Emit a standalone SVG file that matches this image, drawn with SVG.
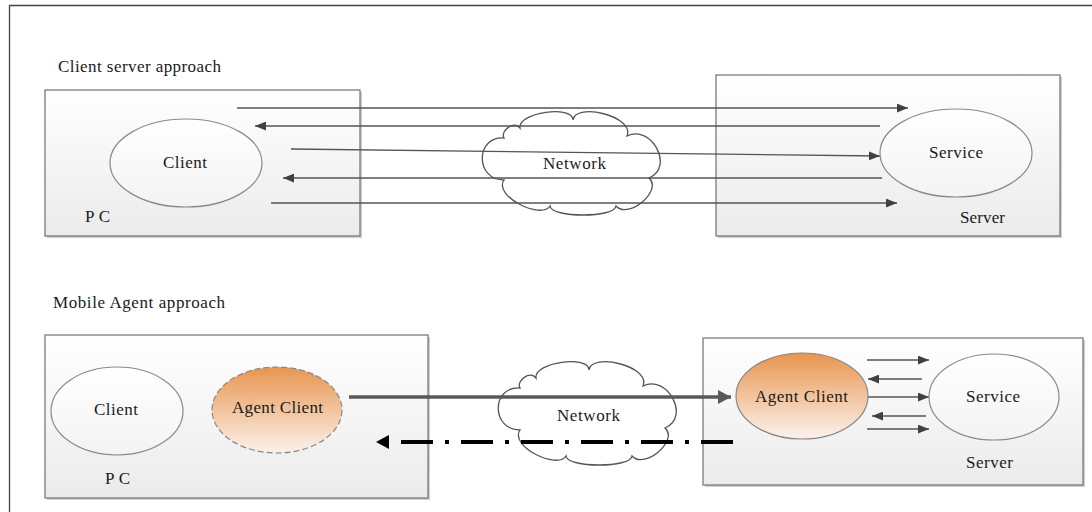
<svg xmlns="http://www.w3.org/2000/svg" width="1092" height="512" viewBox="0 0 1092 512">
<style>
.box{stroke:#7a7a7a;stroke-width:1.3;fill:url(#boxg)}
.shadow{fill:#cfcfcf}
.ell{stroke:#8a8a8a;stroke-width:1.2;fill:url(#ellg)}
.agent{fill:url(#orange);stroke:#888;stroke-width:1.2}
.dash{stroke-dasharray:6 3}
.cloud{fill:#fff;stroke:#555;stroke-width:1.3}
.thin{stroke:#555;stroke-width:1.3;fill:none;marker-end:url(#ah)}
.t{font-family:"Liberation Serif","DejaVu Serif","Times New Roman",serif;font-size:17px;fill:#1a1a1a}
</style>
<defs>
<linearGradient id="boxg" x1="0" y1="0" x2="0" y2="1">
<stop offset="0" stop-color="#ffffff"/><stop offset="1" stop-color="#ebebeb"/>
</linearGradient>
<linearGradient id="ellg" x1="0" y1="0" x2="0" y2="1">
<stop offset="0" stop-color="#ffffff"/><stop offset="1" stop-color="#f3f3f3"/>
</linearGradient>
<linearGradient id="orange" x1="0" y1="0" x2="0" y2="1">
<stop offset="0" stop-color="#e8954f"/><stop offset="1" stop-color="#fbf2ec"/>
</linearGradient>
<marker id="ah" markerUnits="userSpaceOnUse" viewBox="0 0 10 8" markerWidth="11" markerHeight="9" refX="10" refY="4" orient="auto">
<path d="M0,0 L10,4 L0,8 z" fill="#404040"/>
</marker>
<marker id="ahg" markerUnits="userSpaceOnUse" viewBox="0 0 13 14" markerWidth="13" markerHeight="14" refX="13" refY="7" orient="auto">
<path d="M0,0 L13,7 L0,14 z" fill="#595959"/>
</marker>
<marker id="ahk" markerUnits="userSpaceOnUse" viewBox="0 0 13 14" markerWidth="13" markerHeight="14" refX="13" refY="7" orient="auto">
<path d="M0,0 L13,7 L0,14 z" fill="#000"/>
</marker>
<path id="cloudshape" d="M37,16 C35,0 90,-7 90,8 C92,-10 152,4 144,24 C168,12 192,55 166,66 C180,78 146,108 133,94 C132,106 68,106 67,94 C58,108 10,84 21,68 C-8,68 -8,24 21,26 C17,19 31,8 37,16 Z"/>
</defs>

<g id="frame">
<path d="M9.5,512 L9.5,5.5 L1092,5.5" fill="none" stroke="#444" stroke-width="1.3"/>
</g>

<g id="pc-top">
<rect class="shadow" x="47" y="92" width="315" height="146"/>
<rect class="box" x="45" y="90" width="315" height="146"/>
</g>
<g id="server-top">
<rect class="shadow" x="718" y="77" width="344" height="161"/>
<rect class="box" x="716" y="75" width="344" height="161"/>
</g>
<g id="pc-bottom">
<rect class="shadow" x="47" y="337" width="383" height="163"/>
<rect class="box" x="45" y="335" width="383" height="163"/>
</g>
<g id="server-bottom">
<rect class="shadow" x="705" y="340" width="380" height="147"/>
<rect class="box" x="703" y="338" width="380" height="147"/>
</g>

<g id="network-top">
<use href="#cloudshape" class="cloud" transform="translate(483,112)"/>
</g>
<g id="network-bottom">
<use href="#cloudshape" class="cloud" transform="translate(499,362)"/>
</g>

<g id="connectors">
<line class="thin" x1="237" y1="108" x2="908" y2="108"/>
<line class="thin" x1="880" y1="126" x2="255" y2="126"/>
<line class="thin" x1="291" y1="149" x2="880" y2="156"/>
<line class="thin" x1="882" y1="178" x2="283" y2="178"/>
<line class="thin" x1="271" y1="203" x2="897" y2="203"/>
<line x1="349" y1="397" x2="731" y2="397" stroke="#595959" stroke-width="3.5" marker-end="url(#ahg)"/>
<line x1="733" y1="442" x2="376" y2="442" stroke="#000" stroke-width="4" stroke-dasharray="32 12 4 12" marker-end="url(#ahk)"/>
<line class="thin" x1="867" y1="360" x2="929" y2="360"/>
<line class="thin" x1="922" y1="379" x2="868" y2="379"/>
<line class="thin" x1="868" y1="397" x2="929" y2="397"/>
<line class="thin" x1="926" y1="416" x2="872" y2="416"/>
<line class="thin" x1="867" y1="429" x2="929" y2="429"/>
</g>

<g id="client-top">
<ellipse class="ell" cx="186" cy="163" rx="76" ry="44"/>
</g>
<g id="service-top">
<ellipse class="ell" cx="956" cy="153" rx="76" ry="44"/>
</g>
<g id="client-bottom">
<ellipse class="ell" cx="117" cy="411" rx="66" ry="44"/>
</g>
<g id="agent-left">
<ellipse class="agent dash" cx="277" cy="410" rx="65" ry="43"/>
</g>
<g id="agent-right">
<ellipse class="agent" cx="802" cy="396" rx="66" ry="43"/>
</g>
<g id="service-bottom">
<ellipse class="ell" cx="994" cy="397" rx="65" ry="43"/>
</g>

<g id="labels">
<text class="t" x="58" y="72" textLength="163" lengthAdjust="spacing">Client server approach</text>
<text class="t" x="163" y="168" textLength="44" lengthAdjust="spacing">Client</text>
<text class="t" x="85" y="222" textLength="25" lengthAdjust="spacing">PC</text>
<text class="t" x="543" y="169" textLength="63" lengthAdjust="spacing">Network</text>
<text class="t" x="929" y="158" textLength="54" lengthAdjust="spacing">Service</text>
<text class="t" x="960" y="223" textLength="45" lengthAdjust="spacing">Server</text>
<text class="t" x="53" y="308" textLength="172" lengthAdjust="spacing">Mobile Agent approach</text>
<text class="t" x="94" y="415" textLength="44" lengthAdjust="spacing">Client</text>
<text class="t" x="232" y="413" textLength="91" lengthAdjust="spacing">Agent Client</text>
<text class="t" x="105" y="484" textLength="25" lengthAdjust="spacing">PC</text>
<text class="t" x="557" y="421" textLength="63" lengthAdjust="spacing">Network</text>
<text class="t" x="755" y="402" textLength="93" lengthAdjust="spacing">Agent Client</text>
<text class="t" x="966" y="402" textLength="54" lengthAdjust="spacing">Service</text>
<text class="t" x="966" y="468" textLength="47" lengthAdjust="spacing">Server</text>
</g>
</svg>
